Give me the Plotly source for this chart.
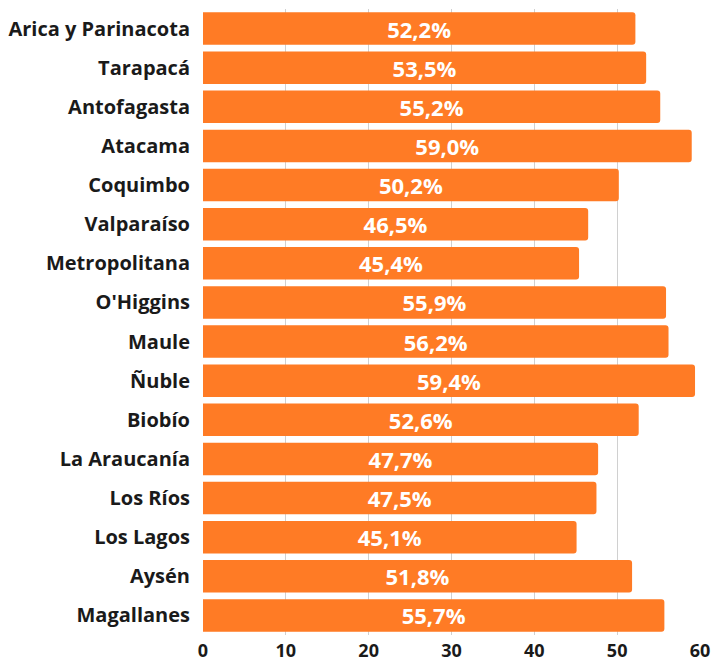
import plotly.graph_objects as go

regions = ["Arica y Parinacota", "Tarapacá", "Antofagasta", "Atacama", "Coquimbo",
           "Valparaíso", "Metropolitana", "O'Higgins", "Maule", "Ñuble", "Biobío",
           "La Araucanía", "Los Ríos", "Los Lagos", "Aysén", "Magallanes"]
values = [52.2, 53.5, 55.2, 59.0, 50.2, 46.5, 45.4, 55.9, 56.2, 59.4, 52.6,
          47.7, 47.5, 45.1, 51.8, 55.7]
x_ticks = [0, 10, 20, 30, 40, 50, 60]

labels = [f"{v:.1f}%".replace(".", ",") for v in values]

fig = go.Figure(go.Bar(
    x=values, y=regions, orientation="h",
    marker=dict(color="#FF7B25", cornerradius=3, line=dict(width=0)),
    text=labels, textposition="inside", insidetextanchor="middle",
    constraintext="none",
    textfont=dict(color="white", size=22, family="Open Sans", weight="bold"),
    textangle=0,
))

fig.update_layout(
    width=712, height=661,
    margin=dict(l=203, r=12, t=9, b=26),
    plot_bgcolor="white", paper_bgcolor="white",
    bargap=0.17,
    showlegend=False,
    font=dict(family="Open Sans", color="#1a1a1a"),
    uniformtext=dict(mode=False),
)
fig.update_xaxes(range=[0, 60], tickvals=x_ticks, showgrid=True, gridcolor="#d0d0d0",
                 gridwidth=1, zeroline=False, showline=False, automargin=False,
                 ticklabelstandoff=3,
                 tickfont=dict(size=18, family="Open Sans", weight="bold", color="#1a1a1a"))
fig.update_yaxes(autorange="reversed", showgrid=False, ticklabelstandoff=12, automargin=False,
                 tickfont=dict(size=20, family="Open Sans", weight="bold", color="#1a1a1a"))

fig.write_html("out.html", config={"displayModeBar": False},
               post_script="document.body.style.margin='0';document.body.style.overflow='hidden';")
